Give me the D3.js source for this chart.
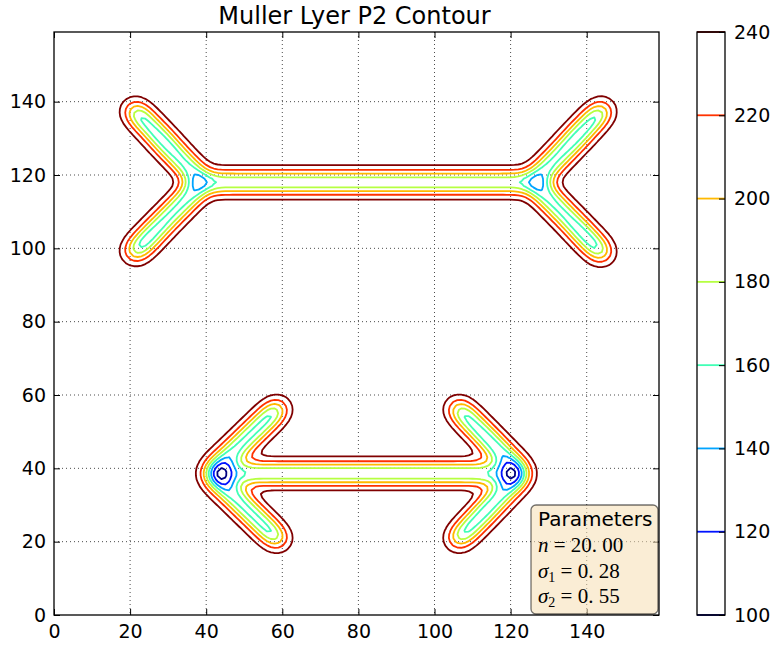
<!DOCTYPE html>
<html>
<head>
<meta charset="utf-8">
<script src="https://cdn.jsdelivr.net/npm/d3@7"></script>
<style>
  body { margin: 0; background: #fff; }
  svg { font-family: "DejaVu Sans", sans-serif; }
</style>
</head>
<body>
<div class="chart"></div>
<script>
// figure strokes (data units): shaft and fins of the two Muller-Lyer figures
const topShaft = [[39, 118], [126, 118]];
const topFins = [
  [[39, 118], [21, 137.8]],
  [[39, 118], [21, 98.8]],
  [[126, 118], [144.2, 137.8]],
  [[126, 118], [144.2, 98.5]]
];
const bottomShaft = [[41.2, 38.6], [123, 38.6]];
const bottomFins = [
  [[41.2, 38.6], [59, 56.5]],
  [[41.2, 38.6], [59, 20.5]],
  [[123, 38.6], [106, 56.5]],
  [[123, 38.6], [106, 20.5]]
];

const levels = [100, 120, 140, 160, 180, 200, 220, 240];
const xTicks = [0, 20, 40, 60, 80, 100, 120, 140];
const yTicks = [0, 20, 40, 60, 80, 100, 120, 140];
const barTicks = [100, 120, 140, 160, 180, 200, 220, 240];
const paramNames = ["n", "σ", "σ"];
const paramSubs = ["", "1", "2"];
const paramValues = ["20. 00", "0. 28", "0. 55"];

// image model: strokes rastered on a 160x160 grid, then gaussian blur
const N = 160, sigma = 2.36, gain = 273;
const shaftW = 2.0, finW = 2.33, finGap = 1.3;

// fins start a little away from the vertex they belong to
function trimStart(f) {
  const dx = f[1][0] - f[0][0], dy = f[1][1] - f[0][1], L = Math.hypot(dx, dy);
  return [[f[0][0] + dx / L * finGap, f[0][1] + dy / L * finGap], f[1]];
}
const strokes = [
  { a: topShaft[0], b: topShaft[1], w: shaftW },
  { a: bottomShaft[0], b: bottomShaft[1], w: shaftW }
].concat(topFins.concat(bottomFins).map(trimStart).map(f => ({ a: f[0], b: f[1], w: finW })));

function segDist(px, py, a, b) {
  const dx = b[0] - a[0], dy = b[1] - a[1];
  let t = ((px - a[0]) * dx + (py - a[1]) * dy) / (dx * dx + dy * dy);
  t = Math.max(0, Math.min(1, t));
  return Math.hypot(a[0] + t * dx - px, a[1] + t * dy - py);
}

const ink = new Float64Array(N * N);
for (let j = 0; j < N; j++) {
  for (let i = 0; i < N; i++) {
    let c = 0;
    strokes.forEach(s => {
      const v = s.w / 2 + 0.5 - segDist(i, j, s.a, s.b);
      c = Math.max(c, Math.max(0, Math.min(1, v)));
    });
    ink[j * N + i] = c;
  }
}

const R = Math.ceil(sigma * 4);
let kern = d3.range(-R, R + 1).map(k => Math.exp(-k * k / (2 * sigma * sigma)));
const ks = d3.sum(kern);
kern = kern.map(k => k / ks);

function blur(src, horiz) {
  const out = new Float64Array(N * N);
  for (let j = 0; j < N; j++) {
    for (let i = 0; i < N; i++) {
      let s = 0;
      for (let k = -R; k <= R; k++) {
        const ii = horiz ? i + k : i, jj = horiz ? j : j + k;
        if (ii < 0 || jj < 0 || ii >= N || jj >= N) continue;
        s += src[jj * N + ii] * kern[k + R];
      }
      out[j * N + i] = s;
    }
  }
  return out;
}
const blurred = blur(blur(ink, true), false);
// negated so the closed rings sit inside the figures, away from grid edges
const field = Array.from(blurred, b => -(255 - gain * b));

// matplotlib jet
function jet(t) {
  const r = d3.scaleLinear([0, 0.35, 0.66, 0.89, 1], [0, 0, 1, 1, 0.5]).clamp(true)(t);
  const g = d3.scaleLinear([0, 0.125, 0.375, 0.64, 0.91, 1], [0, 0, 1, 1, 0, 0]).clamp(true)(t);
  const b = d3.scaleLinear([0, 0.11, 0.34, 0.65, 1], [0.5, 1, 1, 0, 0]).clamp(true)(t);
  return d3.rgb(r * 255, g * 255, b * 255).formatHex();
}
const color = v => jet((v - 100) / 140);

const width = 771, height = 649;
const pL = 54, pR = 659, pT = 32, pB = 615;
const x = d3.scaleLinear().domain([0, 159]).range([pL, pR]);
const y = d3.scaleLinear().domain([0, 159]).range([pB, pT]);

const svg = d3.select(".chart").append("svg")
  .attr("width", width).attr("height", height);

svg.append("defs").append("clipPath").attr("id", "clip")
  .append("rect").attr("x", pL).attr("y", pT)
  .attr("width", pR - pL).attr("height", pB - pT);

// grid
const grid = svg.append("g").attr("stroke", "#000").attr("stroke-width", 1)
  .attr("stroke-dasharray", "1,3").attr("opacity", 0.7);
xTicks.slice(1).forEach(t => grid.append("line")
  .attr("x1", x(t)).attr("x2", x(t)).attr("y1", pT).attr("y2", pB));
yTicks.slice(1).forEach(t => grid.append("line")
  .attr("x1", pL).attr("x2", pR).attr("y1", y(t)).attr("y2", y(t)));

// contours
const contours = d3.contours().size([N, N]).thresholds(levels.map(l => -l))(field);
const proj = d3.geoTransform({
  point: function (px, py) { this.stream.point(x(px - 0.5), y(py - 0.5)); }
});
const path = d3.geoPath(proj);
svg.append("g").attr("clip-path", "url(#clip)")
  .selectAll("path").data(contours).enter().append("path")
  .attr("d", path)
  .attr("fill", "none")
  .attr("stroke", d => color(-d.value))
  .attr("stroke-width", 1.8)
  .attr("stroke-linejoin", "round");

// frame and ticks
svg.append("rect").attr("x", pL).attr("y", pT)
  .attr("width", pR - pL).attr("height", pB - pT)
  .attr("fill", "none").attr("stroke", "#000").attr("stroke-width", 1.3);

const xAxis = svg.append("g").attr("transform", `translate(0,${pB})`)
  .call(d3.axisBottom(x).tickValues(xTicks).tickSizeInner(-6).tickSizeOuter(0).tickPadding(10));
const yAxis = svg.append("g").attr("transform", `translate(${pL},0)`)
  .call(d3.axisLeft(y).tickValues(yTicks).tickSizeInner(-6).tickSizeOuter(0).tickPadding(8));
svg.append("g").attr("transform", `translate(0,${pT})`)
  .call(d3.axisTop(x).tickValues(xTicks).tickSizeInner(-6).tickSizeOuter(0).tickFormat(""));
svg.append("g").attr("transform", `translate(${pR},0)`)
  .call(d3.axisRight(y).tickValues(yTicks).tickSizeInner(-6).tickSizeOuter(0).tickFormat(""));
svg.selectAll(".domain").remove();
[xAxis, yAxis].forEach(a => a.selectAll("text")
  .attr("font-size", 19).attr("font-family", "DejaVu Sans").attr("fill", "#000"));

// title
svg.append("text").attr("x", (pL + pR) / 2 - 2).attr("y", 24)
  .attr("text-anchor", "middle").attr("font-size", 24).text("Muller Lyer P2 Contour");

// parameters box
const box = svg.append("g");
box.append("rect").attr("x", 531).attr("y", 505).attr("width", 127).attr("height", 109)
  .attr("rx", 5).attr("fill", "#f5deb3").attr("fill-opacity", 0.55)
  .attr("stroke", "#000").attr("stroke-opacity", 0.55).attr("stroke-width", 1.3);
box.append("text").attr("x", 538).attr("y", 526).attr("font-size", 20).text("Parameters");
paramNames.forEach((n, i) => {
  const t = box.append("text").attr("x", 538).attr("y", 552 + i * 25.5)
    .attr("font-family", "Liberation Serif, DejaVu Serif, serif").attr("font-size", 21);
  t.append("tspan").attr("font-style", "italic").text(n);
  if (paramSubs[i]) t.append("tspan").attr("font-size", 14).attr("dy", 4).text(paramSubs[i]);
  t.append("tspan").attr("dy", paramSubs[i] ? -4 : 0).text(" = " + paramValues[i]);
});

// colorbar
const cbL = 697, cbR = 725;
const cy = d3.scaleLinear().domain([100, 240]).range([pB, pT]);
const cb = svg.append("g");
cb.selectAll("line.lvl").data(levels).enter().append("line")
  .attr("x1", cbL).attr("x2", cbR).attr("y1", d => cy(d)).attr("y2", d => cy(d))
  .attr("stroke", d => color(d)).attr("stroke-width", 1.8);
cb.append("rect").attr("x", cbL).attr("y", pT).attr("width", cbR - cbL).attr("height", pB - pT)
  .attr("fill", "none").attr("stroke", "#000").attr("stroke-width", 1.3);
const cAxis = cb.append("g").attr("transform", `translate(${cbR},0)`)
  .call(d3.axisRight(cy).tickValues(barTicks).tickSizeInner(-6).tickSizeOuter(0).tickPadding(9));
cAxis.select(".domain").remove();
cAxis.selectAll("text").attr("font-size", 19).attr("font-family", "DejaVu Sans").attr("fill", "#000");
</script>
</body>
</html>
